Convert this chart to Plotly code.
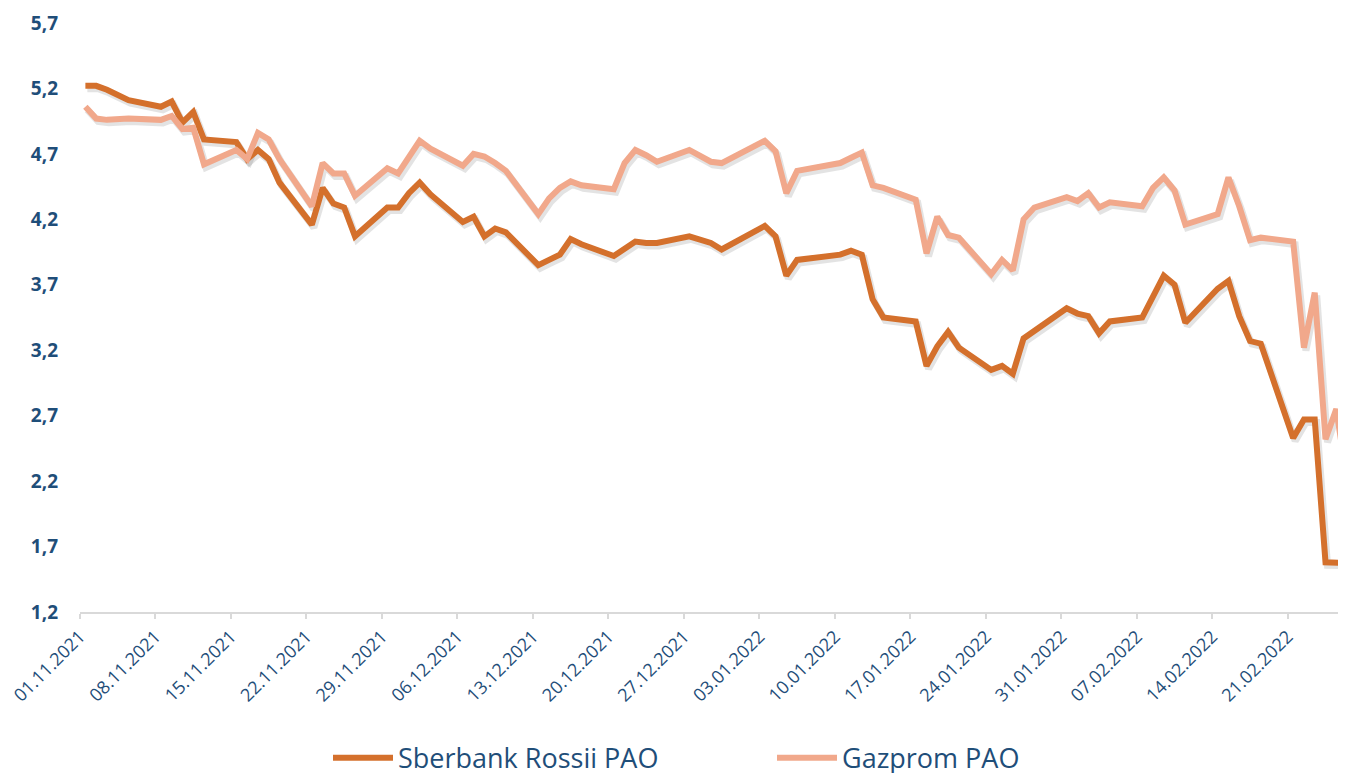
import plotly.graph_objects as go
import pandas as pd

# ---- data ----
dates = [
    "2021-11-01", "2021-11-02", "2021-11-03", "2021-11-05",
    "2021-11-08", "2021-11-09", "2021-11-10", "2021-11-11", "2021-11-12",
    "2021-11-15", "2021-11-16", "2021-11-17", "2021-11-18", "2021-11-19",
    "2021-11-22", "2021-11-23", "2021-11-24", "2021-11-25", "2021-11-26",
    "2021-11-29", "2021-11-30", "2021-12-01", "2021-12-02", "2021-12-03",
    "2021-12-06", "2021-12-07", "2021-12-08", "2021-12-09", "2021-12-10",
    "2021-12-13", "2021-12-14", "2021-12-15", "2021-12-16", "2021-12-17",
    "2021-12-20", "2021-12-21", "2021-12-22", "2021-12-23", "2021-12-24",
    "2021-12-27", "2021-12-28", "2021-12-29", "2021-12-30",
    "2022-01-03", "2022-01-04", "2022-01-05", "2022-01-06",
    "2022-01-10", "2022-01-11", "2022-01-12", "2022-01-13", "2022-01-14",
    "2022-01-17", "2022-01-18", "2022-01-19", "2022-01-20", "2022-01-21",
    "2022-01-24", "2022-01-25", "2022-01-26", "2022-01-27", "2022-01-28",
    "2022-01-31", "2022-02-01", "2022-02-02", "2022-02-03", "2022-02-04",
    "2022-02-07", "2022-02-08", "2022-02-09", "2022-02-10", "2022-02-11",
    "2022-02-14", "2022-02-15", "2022-02-16", "2022-02-17", "2022-02-18",
    "2022-02-21", "2022-02-22", "2022-02-23", "2022-02-24", "2022-02-25",
    "2022-02-28",
]

sberbank = [
    5.22, 5.22, 5.19, 5.11,
    5.06, 5.10, 4.94, 5.02, 4.81,
    4.79, 4.66, 4.73, 4.66, 4.48,
    4.16, 4.44, 4.32, 4.29, 4.07,
    4.29, 4.29, 4.40, 4.48, 4.39,
    4.18, 4.22, 4.07, 4.13, 4.10,
    3.85, 3.89, 3.93, 4.05, 4.01,
    3.92, 3.97, 4.03, 4.02, 4.02,
    4.07, 4.05, 4.02, 3.97,
    4.15, 4.07, 3.77, 3.89,
    3.93, 3.96, 3.93, 3.59, 3.45,
    3.42, 3.08, 3.23, 3.34, 3.22,
    3.05, 3.08, 3.02, 3.29, 3.35,
    3.52, 3.48, 3.46, 3.33, 3.42,
    3.45, 3.62, 3.77, 3.70, 3.41,
    3.67, 3.73, 3.46, 3.27, 3.25,
    2.53, 2.67, 2.67, 1.58, 1.58,
    1.57,
]

gazprom = [
    5.06, 4.97, 4.96, 4.97,
    4.96, 4.99, 4.89, 4.90, 4.62,
    4.73, 4.66, 4.86, 4.81, 4.66,
    4.30, 4.63, 4.55, 4.55, 4.38,
    4.59, 4.55, 4.68, 4.80, 4.74,
    4.61, 4.70, 4.68, 4.63, 4.57,
    4.24, 4.36, 4.44, 4.49, 4.46,
    4.43, 4.63, 4.73, 4.69, 4.64,
    4.73, 4.69, 4.64, 4.63,
    4.80, 4.72, 4.40, 4.57,
    4.63, 4.67, 4.71, 4.46, 4.44,
    4.35, 3.94, 4.22, 4.08, 4.06,
    3.78, 3.89, 3.81, 4.20, 4.29,
    4.37, 4.34, 4.40, 4.29, 4.33,
    4.30, 4.44, 4.52, 4.42, 4.16,
    4.24, 4.52, 4.30, 4.04, 4.06,
    4.03, 3.22, 3.64, 2.52, 2.75,
    1.12,
]

series_names = ["Sberbank Rossii PAO", "Gazprom PAO"]
y_ticks = [1.2, 1.7, 2.2, 2.7, 3.2, 3.7, 4.2, 4.7, 5.2, 5.7]
x_start = "2021-11-01"
x_end = "2022-02-26 09:36"

# ---- styling ----
SBER_COLOR = "#D4702C"
GAZ_COLOR = "#F1A88B"
TEXT_COLOR = "#1F4E79"
AXIS_COLOR = "#D9D9D9"
FONT = "Open Sans"

# page body has an 8px margin: size the figure so it ends at the window edge
FIG_W, FIG_H = 1338, 765
M_L, M_R, M_T, M_B = 72, 0, 15, 161

# Excel date axis puts each daily point in the middle of its day
x = pd.to_datetime(dates) + pd.Timedelta(hours=12)

# shadow offset (a few pixels right / down), expressed through axis ranges
span_days = (pd.Timestamp(x_end) - pd.Timestamp(x_start)) / pd.Timedelta(days=1)
px_per_day = (FIG_W - M_L - M_R) / span_days
dx = pd.Timedelta(days=2.0 / px_per_day)
px_per_unit = (FIG_H - M_T - M_B) / (y_ticks[-1] - y_ticks[0])
dy = 3.0 / px_per_unit

fig = go.Figure()

# soft drop shadows (hidden axes x/y, shifted ranges)
for vals in (sberbank, gazprom):
    fig.add_trace(go.Scatter(
        x=x, y=vals, xaxis="x", yaxis="y", mode="lines",
        line=dict(color="rgba(60,60,60,0.14)", width=7),
        hoverinfo="skip", showlegend=False,
    ))

fig.add_trace(go.Scatter(
    x=x, y=sberbank, xaxis="x2", yaxis="y2", mode="lines",
    name=series_names[0], line=dict(color=SBER_COLOR, width=6),
))
fig.add_trace(go.Scatter(
    x=x, y=gazprom, xaxis="x2", yaxis="y2", mode="lines",
    name=series_names[1], line=dict(color=GAZ_COLOR, width=6),
))

fig.update_layout(
    width=FIG_W, height=FIG_H,
    margin=dict(l=M_L, r=M_R, t=M_T, b=M_B),
    paper_bgcolor="white", plot_bgcolor="white",
    separators=", ",
    font=dict(family=FONT, color=TEXT_COLOR),
    showlegend=True,
    legend=dict(
        orientation="h", xref="container", yref="container",
        x=(328 - 8) / FIG_W, xanchor="left", y=0.0195, yanchor="middle",
        font=dict(size=27, color=TEXT_COLOR, family=FONT),
        itemwidth=60, entrywidth=369, bgcolor="rgba(0,0,0,0)",
    ),
    xaxis=dict(
        type="date", visible=False,
        range=[pd.Timestamp(x_start) - dx, pd.Timestamp(x_end) - dx],
        showgrid=False, zeroline=False,
    ),
    yaxis=dict(
        visible=False, range=[y_ticks[0] + dy, y_ticks[-1] + dy],
        showgrid=False, zeroline=False,
    ),
    xaxis2=dict(
        type="date", overlaying="x", anchor="y2", side="bottom",
        range=[x_start, x_end],
        tick0=x_start, dtick=7 * 24 * 3600 * 1000,
        tickformat="%d.%m.%Y", tickangle=-45,
        tickfont=dict(size=18, color=TEXT_COLOR, family=FONT),
        ticklabeloverflow="allow",
        ticks="outside", ticklen=5, tickcolor=AXIS_COLOR, tickwidth=1.5,
        showline=True, linecolor=AXIS_COLOR, linewidth=2,
        showgrid=False, zeroline=False, automargin=False,
    ),
    yaxis2=dict(
        overlaying="y", anchor="x2", side="left",
        range=[y_ticks[0], y_ticks[-1]],
        tickmode="array", tickvals=y_ticks, tickformat=".1f",
        tickfont=dict(size=19, color=TEXT_COLOR, family=FONT, weight="bold"),
        ticklabelstandoff=21,
        showline=False, showgrid=False, zeroline=False, automargin=False,
    ),
)

fig.write_html("out.html")
